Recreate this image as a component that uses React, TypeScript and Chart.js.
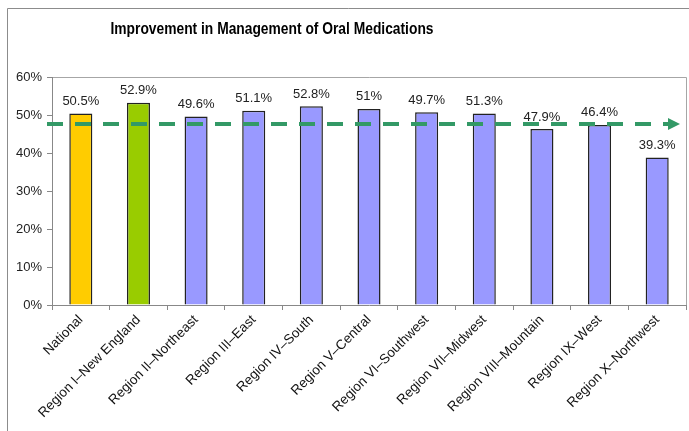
import React, { useEffect, useRef } from "react";
import { Chart, registerables } from "chart.js";

Chart.register(...registerables);

const titleText = "Improvement in Management of Oral Medications";
const categories = [
  "National",
  "Region I–New England",
  "Region II–Northeast",
  "Region III–East",
  "Region IV–South",
  "Region V–Central",
  "Region VI–Southwest",
  "Region VII–Midwest",
  "Region VIII–Mountain",
  "Region IX–West",
  "Region X–Northwest",
];
const barValues = [50.4, 53.2, 49.6, 51.1, 52.3, 51.6, 50.7, 50.4, 46.3, 47.4, 38.8];
const valueLabels = ["50.5%", "52.9%", "49.6%", "51.1%", "52.8%", "51%", "49.7%", "51.3%", "47.9%", "46.4%", "39.3%"];
const barColors = ["#FFCC00", "#99CC00", "#9999FF", "#9999FF", "#9999FF", "#9999FF", "#9999FF", "#9999FF", "#9999FF", "#9999FF", "#9999FF"];
const referenceLineValue = [47.6];
const yTicks = [0, 10, 20, 30, 40, 50, 60];

const FONT = "'Liberation Sans', Arial, sans-serif";

const decorPlugin = {
  id: "decor",
  beforeDraw(chart: any) {
    const ctx = chart.ctx;
    const ca = chart.chartArea;
    ctx.save();
    ctx.fillStyle = "#ffffff";
    ctx.fillRect(0, 0, chart.width, chart.height);
    // outer frame
    ctx.strokeStyle = "#8c8c8c";
    ctx.lineWidth = 1;
    ctx.beginPath();
    ctx.moveTo(7.5, chart.height);
    ctx.lineTo(7.5, 8.5);
    ctx.lineTo(chart.width, 8.5);
    ctx.stroke();
    // plot area top/right border
    ctx.strokeStyle = "#a6a6a6";
    ctx.beginPath();
    ctx.moveTo(ca.left, Math.round(ca.top) + 0.5);
    ctx.lineTo(Math.round(ca.right) + 0.5, Math.round(ca.top) + 0.5);
    ctx.lineTo(Math.round(ca.right) + 0.5, ca.bottom);
    ctx.stroke();
    // title (horizontally condensed to match the original's width)
    ctx.fillStyle = "#000000";
    ctx.font = `bold 16px ${FONT}`;
    ctx.textAlign = "center";
    ctx.textBaseline = "middle";
    const w = ctx.measureText(titleText).width;
    const sx = 323 / w;
    ctx.translate(272, 30);
    ctx.scale(sx, 1);
    ctx.fillText(titleText, 0, 0);
    ctx.restore();
  },
  afterDatasetsDraw(chart: any) {
    const ctx = chart.ctx;
    const ca = chart.chartArea;
    const meta = chart.getDatasetMeta(0);
    ctx.save();
    ctx.fillStyle = "#222222";
    ctx.font = `13px ${FONT}`;
    ctx.textAlign = "center";
    ctx.textBaseline = "middle";
    meta.data.forEach((bar: any, i: number) => {
      ctx.fillText(valueLabels[i], bar.x, bar.y - 12);
    });
    // reference dashed line with arrow
    const y = chart.scales.y.getPixelForValue(referenceLineValue[0]);
    const x0 = ca.left - 5;
    const tip = ca.right - 6;
    const headLen = 12;
    ctx.strokeStyle = "#339966";
    ctx.fillStyle = "#339966";
    ctx.lineWidth = 4;
    ctx.setLineDash([16, 12]);
    ctx.beginPath();
    ctx.moveTo(x0, y);
    ctx.lineTo(tip - headLen + 2, y);
    ctx.stroke();
    ctx.setLineDash([]);
    ctx.beginPath();
    ctx.moveTo(tip, y);
    ctx.lineTo(tip - headLen, y - 6);
    ctx.lineTo(tip - headLen, y + 6);
    ctx.closePath();
    ctx.fill();
    ctx.restore();
  },
};

export default function App() {
  const ref = useRef<HTMLCanvasElement | null>(null);
  useEffect(() => {
    if (!ref.current) return;
    const chart = new Chart(ref.current, {
      type: "bar",
      data: {
        labels: categories,
        datasets: [
          {
            data: barValues,
            backgroundColor: barColors,
            borderColor: "#222222",
            borderWidth: 1.5,
            barPercentage: 0.4,
            categoryPercentage: 1,
          },
        ],
      },
      options: {
        animation: false,
        responsive: false,
        devicePixelRatio: 1,
        layout: { padding: { left: 0, right: 3, top: 77, bottom: 0 } },
        plugins: {
          legend: { display: false },
          title: { display: false },
          tooltip: { enabled: false },
        },
        scales: {
          x: {
            grid: {
              display: true,
              drawOnChartArea: false,
              offset: true,
              tickLength: 5,
              color: "#888888",
            },
            border: { display: true, color: "#888888" },
            ticks: {
              minRotation: 45,
              maxRotation: 45,
              autoSkip: false,
              padding: 2,
              color: "#111111",
              font: { family: FONT, size: 13.5 },
            },
            afterFit(scale: any) {
              scale.height = 126;
            },
          },
          y: {
            min: 0,
            max: 60,
            afterBuildTicks(scale: any) {
              scale.ticks = yTicks.map((v) => ({ value: v }));
            },
            grid: {
              display: true,
              drawOnChartArea: false,
              tickLength: 5,
              color: "#888888",
            },
            border: { display: true, color: "#888888" },
            ticks: {
              padding: 5,
              color: "#222222",
              font: { family: FONT, size: 13 },
              callback: (v: any) => `${v}%`,
            },
            afterFit(scale: any) {
              scale.width = 52;
            },
          },
        },
      },
      plugins: [decorPlugin],
    });
    return () => chart.destroy();
  }, []);
  return (
    <div style={{ position: "fixed", left: 0, top: 0, width: 689, height: 431, background: "#fff" }}>
      <canvas ref={ref} width={689} height={431} style={{ display: "block", width: 689, height: 431 }} />
    </div>
  );
}
